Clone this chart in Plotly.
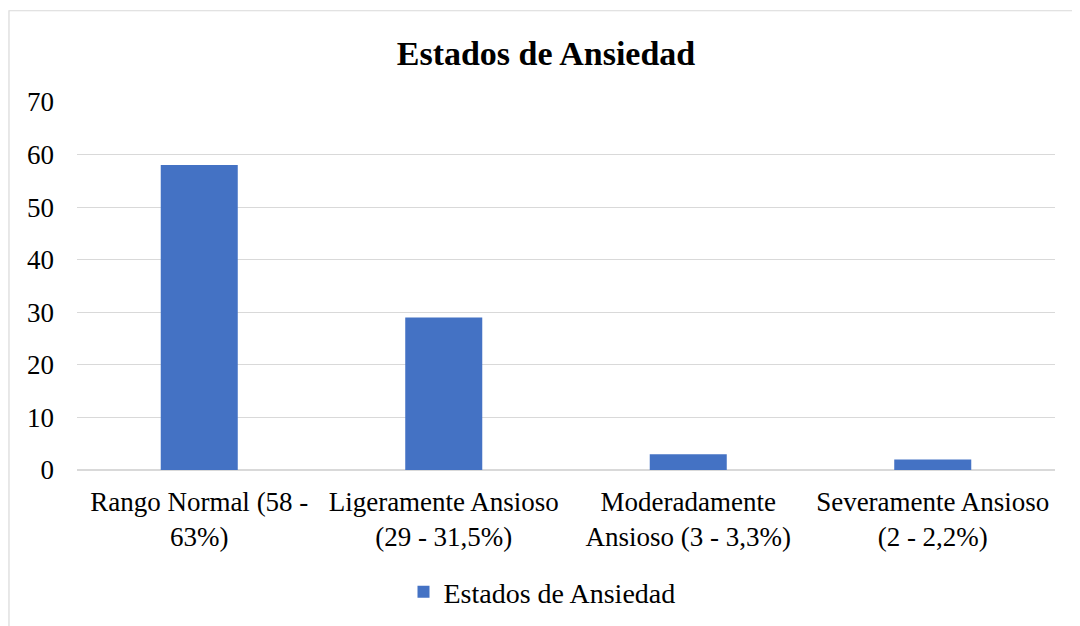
import plotly.graph_objects as go

categories = [
    "Rango Normal (58 -<br>63%)",
    "Ligeramente Ansioso<br>(29 - 31,5%)",
    "Moderadamente<br>Ansioso (3 - 3,3%)",
    "Severamente Ansioso<br>(2 - 2,2%)",
]
values = [58, 29, 3, 2]
series_name = "Estados de Ansiedad"
title_text = "Estados de Ansiedad"
y_ticks = [0, 10, 20, 30, 40, 50, 60, 70]

W, H = 1080, 626
OFF = 8  # page body margin offset
L, R, T = 77 - OFF, W - (1055 - OFF), 102 - OFF
B = H - (470 - OFF)
pw, ph = W - L - R, H - T - B

FONT = "Liberation Serif"

fig = go.Figure()
fig.add_trace(go.Bar(
    x=categories, y=values, name=series_name,
    marker=dict(color="#4472C4", line=dict(width=0)),
    showlegend=True,
))

# chart-area border (left and top edges visible)
bx = (8 - OFF - L) / pw
by = (H - B - (10 - OFF)) / ph
fig.add_shape(type="path", xref="paper", yref="paper",
              path=f"M {bx + 0.001} -1 L {bx + 0.001} {by - 0.002} L 1.2 {by - 0.002}",
              line=dict(color="#d9d9d9", width=1.2), layer="below")

fig.update_layout(
    width=W, height=H,
    margin=dict(l=L, r=R, t=T, b=B),
    paper_bgcolor="white", plot_bgcolor="white",
    font=dict(family=FONT, size=27, color="#000000"),
    title=dict(text="<b>" + title_text + "</b>", x=(546 - OFF) / W, xref="container",
               xanchor="center", y=1 - (53 - OFF) / H, yref="container", yanchor="middle",
               font=dict(family=FONT, size=34, color="#000000")),
    bargap=0.685,
    xaxis=dict(showgrid=False, showline=False, ticks="", zeroline=False,
               ticklabelstandoff=13,
               tickfont=dict(family=FONT, size=27, color="#000000")),
    yaxis=dict(range=[0, 70], tickvals=y_ticks, showgrid=True, gridcolor="#d9d9d9",
               gridwidth=1.2, zeroline=True, zerolinecolor="#d9d9d9", zerolinewidth=1.5,
               showline=False, ticks="", ticklabelstandoff=22,
               tickfont=dict(family=FONT, size=27, color="#000000")),
    legend=dict(orientation="h", xref="container", yref="container",
                x=(542 - OFF) / W, xanchor="center", y=1 - (592 - OFF) / H, yanchor="middle",
                font=dict(family=FONT, size=28, color="#000000"),
                itemwidth=30),
)

fig.write_html("out.html")
